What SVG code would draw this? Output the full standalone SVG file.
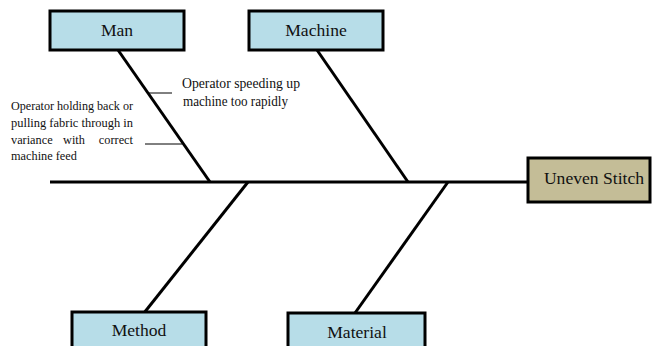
<svg xmlns="http://www.w3.org/2000/svg" width="652" height="346" viewBox="0 0 652 346">
<style>
.box{fill:#b7dde8;stroke:#000;stroke-width:3}
.effect{fill:#c4bd97;stroke:#000;stroke-width:3}
.lbl{font-family:"Liberation Serif",serif;font-size:17.6px;fill:#111;text-anchor:middle}
.note{font-family:"Liberation Serif",serif;fill:#111}
.bone{stroke:#000;stroke-width:3;fill:none}
.sub{stroke:#000;stroke-width:1;fill:none}
</style>
<rect width="652" height="346" fill="#fff"/>
<g id="connectors">
<line class="bone" x1="50" y1="182" x2="528" y2="182"/>
<line class="bone" x1="118" y1="50" x2="210" y2="182"/>
<line class="bone" x1="317" y1="50" x2="408" y2="182"/>
<line class="bone" x1="248" y1="182" x2="144" y2="313"/>
<line class="bone" x1="448" y1="182" x2="355" y2="313"/>
<line class="sub" x1="147" y1="93" x2="172" y2="93"/>
<line class="sub" x1="145" y1="144" x2="182" y2="144"/>
</g>
<g id="man">
<rect class="box" x="50" y="11" width="134" height="39"/>
<text class="lbl" x="117" y="36">Man</text>
</g>
<g id="machine">
<rect class="box" x="249" y="11" width="134" height="39"/>
<text class="lbl" x="316" y="36">Machine</text>
</g>
<g id="uneven-stitch">
<rect class="effect" x="528" y="158" width="122" height="44"/>
<text class="lbl" x="594" y="184">Uneven Stitch</text>
</g>
<g id="method">
<rect class="box" x="72" y="312" width="134" height="40"/>
<text class="lbl" x="139" y="336">Method</text>
</g>
<g id="material">
<rect class="box" x="288" y="313" width="137" height="40"/>
<text class="lbl" x="357" y="338">Material</text>
</g>
<g id="cause-speeding">
<text class="note" font-size="15" x="182" y="88" textLength="118" lengthAdjust="spacingAndGlyphs">Operator speeding up</text>
<text class="note" font-size="15" x="183" y="106" textLength="105" lengthAdjust="spacingAndGlyphs">machine too rapidly</text>
</g>
<g id="cause-holding">
<text class="note" font-size="12.3" x="11" y="110" textLength="122" lengthAdjust="spacingAndGlyphs">Operator holding back or</text>
<text class="note" font-size="12.3" x="11" y="127" textLength="122" lengthAdjust="spacingAndGlyphs">pulling fabric through in</text>
<text class="note" font-size="12.3" x="11" y="144">variance</text>
<text class="note" font-size="12.3" x="63" y="144">with</text>
<text class="note" font-size="12.3" x="133" y="144" text-anchor="end">correct</text>
<text class="note" font-size="12.3" x="11" y="160">machine feed</text>
</g>
</svg>
